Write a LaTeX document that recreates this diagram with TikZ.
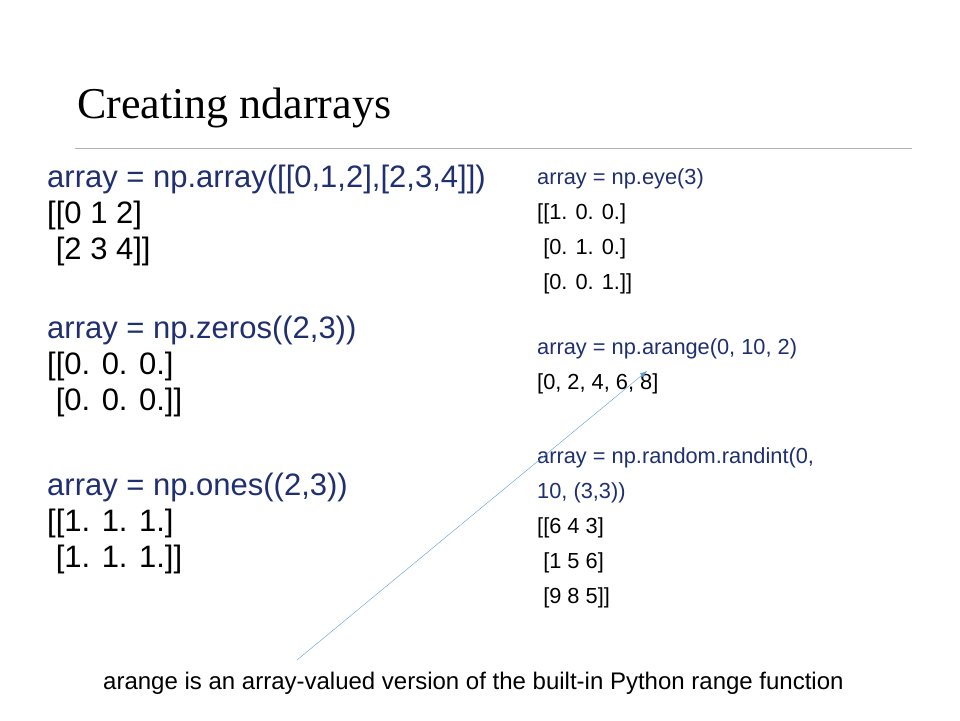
\documentclass[tikz,border=0pt]{standalone}
\usepackage{fontspec}
\setmainfont{Liberation Sans}
\newfontfamily\titlefont{Liberation Serif}
\usetikzlibrary{positioning,arrows.meta}
\definecolor{codeblue}{HTML}{1F2F6F}
\definecolor{arrowblue}{HTML}{5B9BD5}

\begin{document}
\begin{tikzpicture}[x=1pt,y=-1pt]

  % Styles
  \tikzstyle{big}=[anchor=north west,align=left,inner sep=0pt,font=\fontsize{31}{36}\selectfont]
  \tikzstyle{small}=[anchor=north west,align=left,inner sep=0pt,font=\fontsize{21.8}{35}\selectfont]

  \useasboundingbox (0,0) rectangle (960,720);

  % Title
  \node[anchor=west,inner sep=0pt,font=\titlefont\fontsize{44}{48}\selectfont] (title) at (77,108) {Creating ndarrays};
  \draw[gray!60] (75,148) -- (912,148);

  % Left column
  \node[big] (zerosA) at (47,165) {\textcolor{codeblue}{array = np.array([[0,1,2],[2,3,4]])}\\{}[[0 1 2]\\\ [2 3 4]]};
  \node[big] (zerosB) at (47,316) {\textcolor{codeblue}{array = np.zeros((2,3))}\\{}[[0. 0. 0.]\\\ [0. 0. 0.]]};
  \node[big] (ones) at (47,473) {\textcolor{codeblue}{array = np.ones((2,3))}\\{}[[1. 1. 1.]\\\ [1. 1. 1.]]};

  % Right column
  \node[small] (eye) at (537,168) {\textcolor{codeblue}{array = np.eye(3)}\\{}[[1. 0. 0.]\\\ [0. 1. 0.]\\\ [0. 0. 1.]]};
  \node[small] (arange) at (537,338) {\textcolor{codeblue}{array = np.arange(0, 10, 2)}\\{}[0, 2, 4, 6, 8]};
  \node[small] (randint) at (537,447) {\textcolor{codeblue}{array = np.random.randint(0,}\\\textcolor{codeblue}{10, (3,3))}\\{}[[6 4 3]\\\ [1 5 6]\\\ [9 8 5]]};

  % Note and arrow
  \node[anchor=west,inner sep=0pt,font=\fontsize{24}{26}\selectfont] (note) at (103,683) {arange is an array-valued version of the built-in Python range function};
  \coordinate (tail) at (297,660);
  \coordinate (tip) at (647,371);
  \draw[arrowblue,-{Latex[length=7pt,width=5pt]}] (tail) -- (tip);

\end{tikzpicture}
\end{document}
